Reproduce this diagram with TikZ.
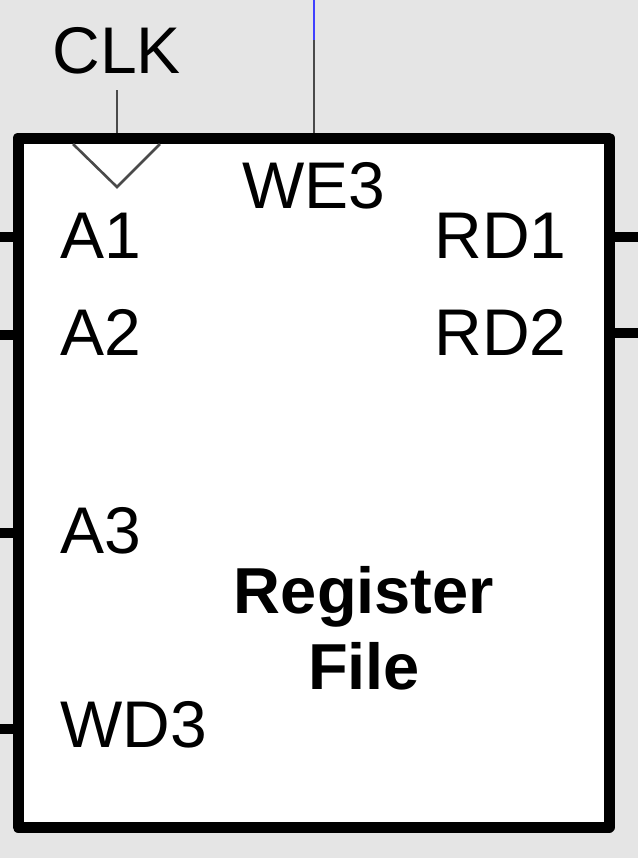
\documentclass[tikz,border=0pt]{standalone}
\usepackage{fontspec}
\setmainfont{Liberation Sans}
\usetikzlibrary{positioning}
\definecolor{bggray}{HTML}{E5E5E5}
\definecolor{wiregray}{HTML}{4A4A4A}
\definecolor{wireblue}{HTML}{4040FF}

\begin{document}
\begin{tikzpicture}[x=0.5pt, y=-0.5pt,
    port/.style = {font=\fontsize{33}{39}\selectfont, inner sep=0pt, anchor=base west},
    bus/.style = {line width=5pt},
    sig/.style = {wiregray, line width=1.3pt}]
    \useasboundingbox (0,0) rectangle (638,858);
    \fill[bggray] (0,0) rectangle (638,858);
    \node[draw, fill=white, line width=5.5pt, line join=round, inner sep=0pt,
          minimum width=295.5pt, minimum height=344.5pt] (rf) at (313.5,482.5) {};
    % port labels
    \node[port] (a1) at (60,258) {A1};
    \node[port] (a2) at (60,355) {A2};
    \node[port] (a3) at (60,553) {A3};
    \node[port] (wd3) at (60,747) {WD3};
    \node[port] (rd1) at (434,258) {RD1};
    \node[port] (rd2) at (434,355) {RD2};
    \node[port] (we3) at (242,208) {WE3};
    \node[port] (clk) at (52,73) {CLK};
    \node[font=\fontsize{32.5}{38}\bfseries, align=center, inner sep=0pt] (name) at (364,628) {Register\\File};
    % wires
    \coordinate (a1in) at (0,237);
    \coordinate (a2in) at (0,335);
    \coordinate (a3in) at (0,533);
    \coordinate (wd3in) at (0,729);
    \coordinate (rd1out) at (638,237);
    \coordinate (rd2out) at (638,333);
    \foreach \p in {a1in,a2in,a3in,wd3in}
        \draw[bus] (\p) -- (\p -| rf.west);
    \foreach \p in {rd1out,rd2out}
        \draw[bus] (\p -| rf.east) -- (\p);
    \coordinate (clktop) at (117,90);
    \coordinate (we3top) at (314,0);
    \coordinate (we3mid) at (314,40);
    \draw[sig] (clktop) -- (clktop |- rf.north);
    \draw[sig] (73,144) -- (117,187) -- (160,144);
    \draw[wireblue, line width=1.3pt] (we3top) -- (we3mid);
    \draw[sig] (we3mid) -- (we3mid |- rf.north);
\end{tikzpicture}
\end{document}
